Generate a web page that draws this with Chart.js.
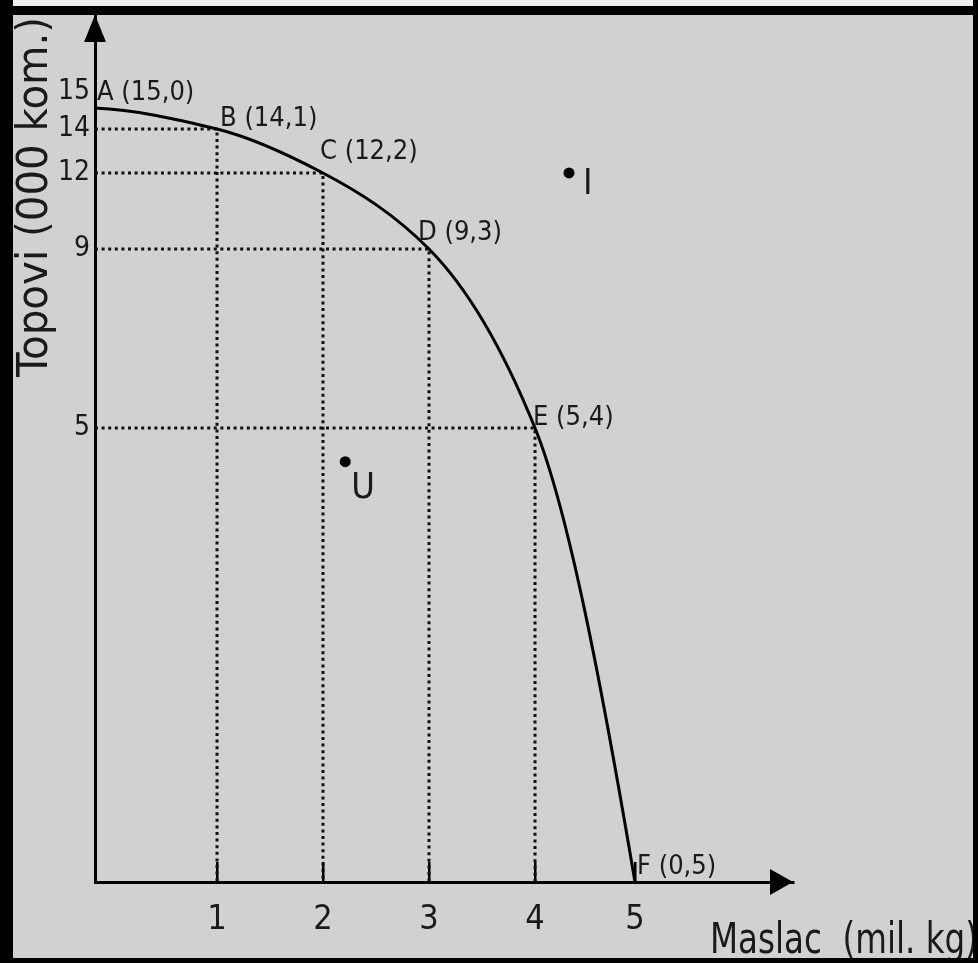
<!DOCTYPE html>
<html>
<head>
<meta charset="utf-8">
<script src="https://cdn.jsdelivr.net/npm/chart.js@4"></script>
<style>
html, body { margin: 0; padding: 0; background: #fff; }
</style>
</head>
<body>
<canvas id="granica" width="978" height="963"></canvas>
<script>
// podaci s grafikona (maslac = x, topovi = y)
const maslac = [0, 1, 2, 3, 4, 5];
const topovi = [15, 14, 12, 9, 5, 0];
const oznake = ['A', 'B', 'C', 'D', 'E', 'F'];
const tickoviX = [1, 2, 3, 4, 5];
const tickoviY = [5, 9, 12, 14, 15];
// tocke izvan krivulje
const ostaloIme = ['I', 'U'];
const ostaloX = [4.34, 2.21];
const ostaloY = [12, 4.63];

const FONT = "'DejaVu Sans Condensed', 'Liberation Sans Narrow', sans-serif";

// os nacrtana rukom nije linearna, pa skala ide po cvorovima
class IskrivljenaSkala extends Chart.LinearScale {
  static id = 'iskrivljena';
  static defaults = Chart.LinearScale.defaults;
  udio(v) {
    const vr = this.options.vrijednosti, ud = this.options.udjeli;
    if (v <= vr[0]) return ud[0];
    for (let i = 1; i < vr.length; i++) {
      if (v <= vr[i]) {
        const t = (v - vr[i - 1]) / (vr[i] - vr[i - 1]);
        return ud[i - 1] + t * (ud[i] - ud[i - 1]);
      }
    }
    return ud[ud.length - 1];
  }
  getPixelForValue(v) {
    if (v === null || v === undefined || isNaN(v)) return NaN;
    return this.getPixelForDecimal(this.udio(v));
  }
  getValueForPixel(p) {
    const vr = this.options.vrijednosti, ud = this.options.udjeli;
    let d = (p - this._startPixel) / this._length;
    if (this._reversePixels) d = 1 - d;
    for (let i = 1; i < ud.length; i++) {
      if (d <= ud[i]) {
        const t = (d - ud[i - 1]) / (ud[i] - ud[i - 1]);
        return vr[i - 1] + t * (vr[i] - vr[i - 1]);
      }
    }
    return vr[vr.length - 1];
  }
}
Chart.register(IskrivljenaSkala);

// glatka konveksna krivulja: tangente kao kod PCHIP-a, racunate iz piksela tocaka
const glatko = {
  id: 'glatko',
  beforeDatasetsDraw(chart) {
    const meta = chart.getDatasetMeta(0);
    const line = meta.dataset, pts = meta.data;
    const n = pts.length;
    const h = [], s = [];
    for (let k = 0; k < n - 1; k++) {
      h.push(pts[k + 1].x - pts[k].x);
      s.push((pts[k + 1].y - pts[k].y) / h[k]);
    }
    const m = new Array(n);
    for (let k = 1; k < n - 1; k++) {
      if (s[k - 1] * s[k] <= 0) m[k] = 0;
      else {
        const w1 = 2 * h[k] + h[k - 1], w2 = h[k] + 2 * h[k - 1];
        m[k] = (w1 + w2) / (w1 / s[k - 1] + w2 / s[k]);
      }
    }
    const kraj = (h0, h1, s0, s1) => {
      let d = ((2 * h0 + h1) * s0 - h0 * s1) / (h0 + h1);
      if (Math.sign(d) !== Math.sign(s0)) d = 0;
      else if (Math.sign(s0) !== Math.sign(s1) && Math.abs(d) > Math.abs(3 * s0)) d = 3 * s0;
      return d;
    };
    m[0] = kraj(h[0], h[1], s[0], s[1]);
    m[n - 1] = kraj(h[n - 2], h[n - 3], s[n - 2], s[n - 3]);
    pts.forEach((p, k) => {
      const hp = k > 0 ? h[k - 1] : 0, hn = k < n - 1 ? h[k] : 0;
      p.cp1x = p.x - hp / 3; p.cp1y = p.y - m[k] * hp / 3;
      p.cp2x = p.x + hn / 3; p.cp2y = p.y + m[k] * hn / 3;
    });
    line._pointsUpdated = true;
    delete line._path;
  }
};

const ukras = {
  id: 'ukras',
  beforeDraw(chart) {
    const ctx = chart.ctx;
    ctx.save();
    ctx.fillStyle = '#d1d1d1';
    ctx.fillRect(0, 0, chart.width, chart.height);
    ctx.restore();
  },
  afterDatasetsDraw(chart) {
    const ctx = chart.ctx;
    const sx = chart.scales.x, sy = chart.scales.y;
    const a = chart.chartArea;
    const x0 = sx.getPixelForValue(0), y0 = sy.getPixelForValue(0);
    ctx.save();
    ctx.fillStyle = '#000';
    // strelice
    ctx.beginPath();
    ctx.moveTo(x0, a.top);
    ctx.lineTo(x0 - 11, a.top + 27);
    ctx.lineTo(x0 + 11, a.top + 27);
    ctx.closePath();
    ctx.fill();
    ctx.beginPath();
    ctx.moveTo(a.right, y0);
    ctx.lineTo(a.right - 23, y0 - 13);
    ctx.lineTo(a.right - 23, y0 + 13);
    ctx.closePath();
    ctx.fill();

    // oznake tocaka na krivulji (pomaci su rucno podeseni)
    ctx.fillStyle = '#1a1a1a';
    ctx.font = '27px ' + FONT;
    ctx.textAlign = 'left';
    ctx.textBaseline = 'bottom';
    const pomaciOznaka = [[2, -2], [3, 3], [-3, -7], [-11, -3], [-2, 3], [2, -2]];
    oznake.forEach((o, i) => {
      const px = sx.getPixelForValue(maslac[i]);
      const py = sy.getPixelForValue(topovi[i]);
      ctx.fillText(o + ' (' + topovi[i] + ',' + maslac[i] + ')', px + pomaciOznaka[i][0], py + pomaciOznaka[i][1]);
    });

    // I i U
    ctx.font = '36px ' + FONT;
    ctx.textBaseline = 'top';
    const pomaci = [[14, -6], [6, 9]];
    ostaloIme.forEach((o, i) => {
      const px = sx.getPixelForValue(ostaloX[i]);
      const py = sy.getPixelForValue(ostaloY[i]);
      ctx.fillText(o, px + pomaci[i][0], py + pomaci[i][1]);
    });

    // nazivi osi
    ctx.font = '42px ' + FONT;
    ctx.textBaseline = 'alphabetic';
    let t = 'Maslac  (mil. kg)';
    let w = ctx.measureText(t).width;
    ctx.save();
    ctx.translate(710, 953);
    ctx.scale(268 / w, 1);
    ctx.fillText(t, 0, 0);
    ctx.restore();

    t = 'Topovi (000 kom.)';
    w = ctx.measureText(t).width;
    ctx.save();
    ctx.translate(47, 377);
    ctx.rotate(-Math.PI / 2);
    ctx.scale(360 / w, 1);
    ctx.fillText(t, 0, 0);
    ctx.restore();
    ctx.restore();
  },
  afterDraw(chart) {
    const ctx = chart.ctx;
    ctx.save();
    ctx.fillStyle = '#f0f0f0';
    ctx.fillRect(13, 0, 965, 6);
    ctx.fillStyle = '#000';
    ctx.fillRect(0, 6, 978, 9);
    ctx.fillRect(0, 0, 13, 963);
    ctx.fillRect(973, 0, 5, 963);
    ctx.fillRect(0, 958, 978, 5);
    ctx.restore();
  }
};

const tocke = maslac.map((x, i) => ({ x: x, y: topovi[i] }));

// isprekidane linije do osi
const vodilice = [];
maslac.forEach((x, i) => {
  if (x > 0 && topovi[i] > 0) {
    vodilice.push({
      data: [{ x: 0, y: topovi[i] }, { x: x, y: topovi[i] }, { x: x, y: 0 }],
      borderColor: '#111',
      borderWidth: 3,
      borderDash: [3, 3.6],
      borderCapStyle: 'butt',
      pointRadius: 0,
      tension: 0,
      fill: false
    });
  }
});

new Chart(document.getElementById('granica'), {
  type: 'line',
  data: {
    datasets: [
      {
        data: tocke,
        borderColor: '#000',
        borderWidth: 3,
        pointRadius: 0,
        tension: 0.4,
        fill: false
      },
      {
        data: ostaloX.map((x, i) => ({ x: x, y: ostaloY[i] })),
        showLine: false,
        pointRadius: 5.5,
        pointBackgroundColor: '#000',
        pointBorderWidth: 0
      },
      ...vodilice
    ]
  },
  options: {
    responsive: false,
    animation: false,
    devicePixelRatio: 1,
    layout: { padding: { left: 55, top: 15, right: 185, bottom: 21 } },
    plugins: { legend: { display: false }, tooltip: { enabled: false } },
    scales: {
      x: {
        type: 'iskrivljena',
        min: 0,
        max: 6.5,
        vrijednosti: [0, 1, 2, 3, 4, 5, 6.5],
        udjeli: [0, 0.1748, 0.3266, 0.4785, 0.6304, 0.7736, 1],
        afterBuildTicks: s => { s.ticks = tickoviX.map(v => ({ value: v })); },
        afterFit: s => { s.height = 60; },
        grid: { drawOnChartArea: false, drawTicks: true, tickLength: -20, lineWidth: 2.5, color: '#000' },
        border: { display: true, color: '#000', width: 3 },
        ticks: { autoSkip: false, maxRotation: 0, padding: 38, color: '#1a1a1a', font: { family: FONT, size: 34 }, callback: v => String(v) }
      },
      y: {
        type: 'iskrivljena',
        min: 0,
        max: 17,
        vrijednosti: [0, 5, 9, 12, 14, 15, 17],
        udjeli: [0, 0.5236, 0.7301, 0.8178, 0.8685, 0.8927, 1],
        afterBuildTicks: s => { s.ticks = tickoviY.map(v => ({ value: v })); },
        afterFit: s => { s.width = 40; s.paddingTop = 0; s.paddingBottom = 0; },
        grid: { drawOnChartArea: false, drawTicks: false },
        border: { display: true, color: '#000', width: 3 },
        // 15 je u originalu malo podignut iznad 14
        ticks: { autoSkip: false, padding: 5, color: '#1a1a1a', font: { family: FONT, size: 28 }, callback: v => v === 15 ? ['15', ''] : String(v) }
      }
    }
  },
  plugins: [glatko, ukras]
});
</script>
</body>
</html>
